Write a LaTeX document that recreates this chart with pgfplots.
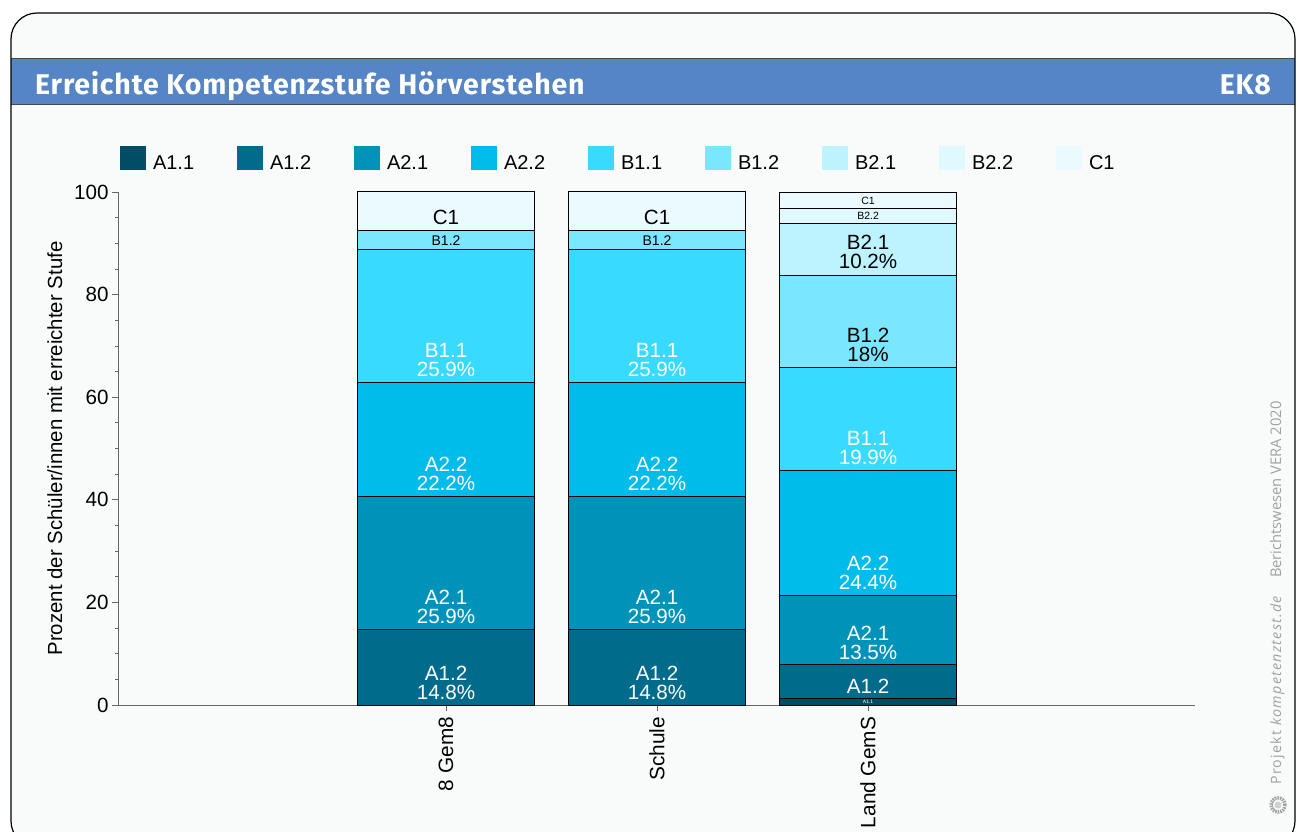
\documentclass[border=0pt]{standalone}
\usepackage{fontspec}
\setmainfont{Liberation Sans}
\newfontfamily\titlefont[LetterSpace=3]{Fira Sans}
\newfontfamily\wmfont{Open Sans}
\newfontfamily\wmfontb[LetterSpace=9]{Open Sans}
\usepackage{pgfplots}
\pgfplotsset{compat=1.18}
\definecolor{panel}{HTML}{F9FBFB}
\definecolor{band}{HTML}{5585C5}
\definecolor{axisgray}{HTML}{666666}
\definecolor{wm}{HTML}{A0A0A0}
\definecolor{ca}{HTML}{004D66}
\definecolor{cb}{HTML}{006B8A}
\definecolor{cc}{HTML}{0093BA}
\definecolor{cd}{HTML}{00BCEB}
\definecolor{ce}{HTML}{38DBFF}
\definecolor{cf}{HTML}{7AE6FF}
\definecolor{cg}{HTML}{BDF3FF}
\definecolor{ch}{HTML}{E0F8FF}
\definecolor{ci}{HTML}{EBFAFF}
\newcommand{\lab}[1]{\makebox[81pt][l]{\hspace*{5pt}\raisebox{-12pt}[0pt][0pt]{#1}}}
\pgfplotsset{
  geom/.style={
    at={(118pt,126pt)}, anchor=south west,
    scale only axis, width=1077pt, height=513pt,
    xmin=-1.5545, xmax=3.5498, ymin=0, ymax=100,
  },
  lbl/.style={
    only marks, mark=none, forget plot, point meta=explicit symbolic,
    nodes near coords,
    nodes near coords align={anchor=south},
    every node near coord/.append style={
      anchor=south, align=center, inner sep=0pt, yshift=#1,
    },
  },
}
\begin{document}
\begin{tikzpicture}[x=1pt,y=1pt]
\useasboundingbox (0,0) rectangle (1298,831);
\clip (0,0) rectangle (1298,831);
\fill[white] (0,0) rectangle (1298,831);
\begin{scope}
\path[rounded corners=26pt,clip] (11,-16) rectangle (1295,818);
\fill[panel] (11,-16) rectangle (1295,818);
\fill[band] (11,726) rectangle (1295,772);
\draw[axisgray!70!black,line width=1pt] (11,772) -- (1295,772) (11,726) -- (1295,726);
\end{scope}
\draw[black,line width=1.2pt,rounded corners=26pt] (11,-16) rectangle (1295,818);
\node[anchor=base west,text=white,inner sep=0pt] at (35,736)
  {\titlefont\bfseries\fontsize{28.5}{28.5}\selectfont Erreichte Kompetenzstufe Hörverstehen};
\node[anchor=base east,text=white,inner sep=0pt] at (1271,736)
  {\titlefont\bfseries\fontsize{28.5}{28.5}\selectfont EK8};
\node[rotate=90,anchor=base west,text=wm,inner sep=0pt] at (1281,253)
  {\wmfont\fontsize{14.7}{14.7}\selectfont Berichtswesen VERA 2020};
\node[rotate=90,anchor=base west,text=wm,inner sep=0pt] at (1281,46)
  {\wmfontb\fontsize{14.2}{14.2}\selectfont Projekt \itshape kompetenztest.de};
\draw[wm,line width=3.5pt,dash pattern=on 1.5pt off 1pt] (1278,26) circle (7);
\fill[wm!50] (1278,26) circle (3.5);

\begin{axis}[geom,
  ybar stacked, bar width=177pt,
  axis lines=left, axis line style={axisgray,line width=1pt,-},
  tick style={axisgray,line width=0.8pt},
  tick align=outside,
  major tick length=6pt, minor tick length=3pt,
  xtick={0,1,2}, xticklabels={8 Gem8,Schule,Land GemS},
  x tick label style={rotate=90,anchor=east,xshift=-2.5pt,font=\fontsize{20.8}{20.8}\selectfont},
  ytick={0,20,...,100}, minor y tick num=3,
  y tick label style={font=\fontsize{20.6}{20.6}\selectfont,/pgf/number format/assume math mode=true},
  ylabel={Prozent der Schüler/innen mit erreichter Stufe},
  ylabel style={font=\fontsize{20.4}{20.4}\selectfont,at={(ticklabel cs:0.5)},yshift=5pt},
  clip=false,
  legend columns=9,
  legend style={draw=none,fill=none,at={(2pt,535pt)},anchor=south west,inner sep=0pt,outer sep=0pt,
    font=\fontsize{20}{20}\selectfont,
    /tikz/every even column/.append style={column sep=6pt}},
  legend cell align=left,
  legend image code/.code={\fill[#1,draw=none] (0pt,-12pt) rectangle (26pt,12pt);},
  every axis plot/.append style={draw=black,line width=1pt},
]
\addplot[fill=ca] coordinates {(0,0) (1,0) (2,1.2)};
\addplot[fill=cb] coordinates {(0,14.8) (1,14.8) (2,6.7)};
\addplot[fill=cc] coordinates {(0,25.9) (1,25.9) (2,13.5)};
\addplot[fill=cd] coordinates {(0,22.2) (1,22.2) (2,24.4)};
\addplot[fill=ce] coordinates {(0,25.9) (1,25.9) (2,19.9)};
\addplot[fill=cf] coordinates {(0,3.7) (1,3.7) (2,18)};
\addplot[fill=cg] coordinates {(0,0) (1,0) (2,10.2)};
\addplot[fill=ch] coordinates {(0,0) (1,0) (2,2.9)};
\addplot[fill=ci] coordinates {(0,7.5) (1,7.5) (2,3.1)};
\legend{\lab{A1.1},\lab{A1.2},\lab{A2.1},\lab{A2.2},\lab{B1.1},\lab{B1.2},\lab{B2.1},\lab{B2.2},\lab{C1}}
\end{axis}

\begin{axis}[geom,hide axis,clip=false]
\addplot[lbl=5pt,nodes near coords style={text=white,font=\fontsize{20.6}{19}\selectfont}] coordinates {
 (0,0)[A1.2\\14.8\%] (1,0)[A1.2\\14.8\%]
 (0,14.8)[A2.1\\25.9\%] (1,14.8)[A2.1\\25.9\%]
 (0,40.7)[A2.2\\22.2\%] (1,40.7)[A2.2\\22.2\%]
 (0,62.9)[B1.1\\25.9\%] (1,62.9)[B1.1\\25.9\%]
 (2,1.2)[A1.2]
 (2,7.9)[A2.1\\13.5\%]
 (2,21.4)[A2.2\\24.4\%]
 (2,45.8)[B1.1\\19.9\%]
};
\addplot[lbl=6pt,nodes near coords style={text=black,font=\fontsize{20.6}{19}\selectfont}] coordinates {
 (0,92.5)[C1] (1,92.5)[C1]
 (2,65.7)[B1.2\\18\%]
 (2,83.8)[B2.1\\10.2\%]
};
\addplot[lbl=4pt,nodes near coords style={text=black,font=\fontsize{14}{14}\selectfont}] coordinates {
 (0,88.8)[B1.2] (1,88.8)[B1.2]
};
\addplot[lbl=3pt,nodes near coords style={text=black,font=\fontsize{10.5}{10.5}\selectfont}] coordinates {
 (2,94)[B2.2] (2,96.9)[C1]
};
\addplot[lbl=1pt,nodes near coords style={text=white,font=\fontsize{5}{5}\selectfont}] coordinates {
 (2,0)[A1.1]
};
\end{axis}
\end{tikzpicture}
\end{document}
